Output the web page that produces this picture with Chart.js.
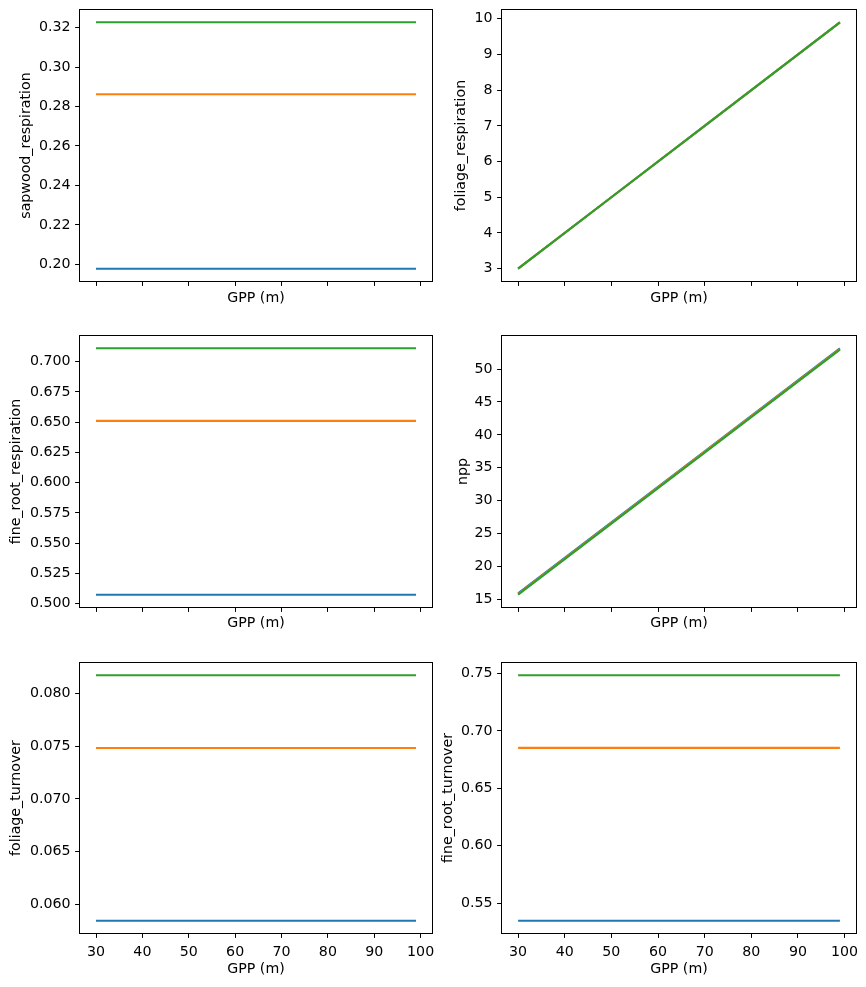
<!DOCTYPE html>
<html>
<head>
<meta charset="utf-8">
<script src="https://cdn.jsdelivr.net/npm/chart.js@4"></script>
<style>
  body { margin: 0; background: #fff; width: 866px; height: 987px; position: relative; overflow: hidden; }
  canvas { position: absolute; }
</style>
</head>
<body>
<script>
// Eje x compartido (GPP)
const xTicks = [30, 40, 50, 60, 70, 80, 90, 100];
const gppFlat = [30, 99];
const gppLine = [30, 50, 70, 99];
const seriesColors = ['#1f77b4', '#ff7f0e', '#2ca02c'];

// Valores (azul, naranja, verde)
const sapwoodResp = [0.1978, 0.2862, 0.3227];
const fineRootResp = [0.5074, 0.6510, 0.7110];
const foliageTurnover = [0.05842, 0.07484, 0.08176];
const fineRootTurnover = [0.5347, 0.6853, 0.7485];

const foliageRespBlue = [3.0, 5.0, 7.0, 9.9];
const foliageRespOrange = [3.0, 5.0, 7.0, 9.9];
const foliageRespGreen = [3.0, 5.0, 7.0, 9.9];

const nppBlue = [15.9, 26.7, 37.5, 53.15];
const nppOrange = [15.8, 26.6, 37.4, 53.05];
const nppGreen = [15.7, 26.5, 37.3, 52.95];

// Etiquetas de los ejes y
const yTicksSapwood = ['0.20', '0.22', '0.24', '0.26', '0.28', '0.30', '0.32'];
const yTicksFoliageResp = ['3', '4', '5', '6', '7', '8', '9', '10'];
const yTicksFineRootResp = ['0.500', '0.525', '0.550', '0.575', '0.600', '0.625', '0.650', '0.675', '0.700'];
const yTicksNpp = ['15', '20', '25', '30', '35', '40', '45', '50'];
const yTicksFoliageTurn = ['0.060', '0.065', '0.070', '0.075', '0.080'];
const yTicksFineRootTurn = ['0.55', '0.60', '0.65', '0.70', '0.75'];

Chart.defaults.font.family = 'DejaVu Sans';
Chart.defaults.font.size = 14.2;
Chart.defaults.color = '#000';

// Series planas: un valor por línea
function flatSets(values) {
    return values.map((v, i) => ({
        data: gppFlat.map(x => ({ x: x, y: v })),
        borderColor: seriesColors[i],
        order: 2 - i
    }));
}

function lineSets(lists) {
    return lists.map((ys, i) => ({
        data: gppLine.map((x, k) => ({ x: x, y: ys[k] })),
        borderColor: seriesColors[i],
        order: 2 - i
    }));
}

// Marco completo como en matplotlib
const framePlugin = {
    id: 'frame',
    afterDatasetsDraw(chart) {
        const a = chart.chartArea;
        const ctx = chart.ctx;
        ctx.save();
        ctx.strokeStyle = '#000';
        ctx.lineWidth = 1;
        ctx.strokeRect(Math.round(a.left) - 0.5, Math.round(a.top) - 0.5,
            Math.round(a.right - a.left) + 1, Math.round(a.bottom - a.top) + 1);
        ctx.restore();
    }
};

const Y_W = 80, PAD = 6;

function makePanel(p) {
    const boxW = p.right - p.left, boxH = p.bottom - p.top;
    const canvas = document.createElement('canvas');
    canvas.width = Y_W + boxW + PAD;
    canvas.height = PAD + boxH + p.xH;
    canvas.style.left = (p.left - Y_W) + 'px';
    canvas.style.top = (p.top - PAD) + 'px';
    document.body.appendChild(canvas);

    // Límites con margen del 5% como matplotlib
    const allY = p.datasets.flatMap(d => d.data.map(pt => pt.y));
    const yMin = Math.min(...allY), yMax = Math.max(...allY);
    const yr = yMax - yMin;
    const xr = gppFlat[1] - gppFlat[0];

    new Chart(canvas, {
        type: 'line',
        data: { datasets: p.datasets },
        options: {
            responsive: false,
            animation: false,
            layout: { padding: { top: PAD, right: PAD, left: 0, bottom: 0 } },
            elements: {
                line: { borderWidth: 2.1, tension: 0, fill: false },
                point: { radius: 0 }
            },
            plugins: { legend: { display: false }, tooltip: { enabled: false } },
            scales: {
                x: {
                    type: 'linear',
                    min: gppFlat[0] - 0.05 * xr,
                    max: gppFlat[1] + 0.05 * xr,
                    afterBuildTicks: s => { s.ticks = xTicks.map(v => ({ value: v })); },
                    afterFit: s => { s.height = p.xH; s.paddingLeft = 0; s.paddingRight = 0; },
                    grid: { drawOnChartArea: false, drawTicks: true, tickLength: 4.9, tickWidth: 1, tickColor: '#000' },
                    border: { display: false },
                    ticks: {
                        padding: 5.5,
                        maxRotation: 0,
                        autoSkip: false,
                        color: p.showX ? '#000' : 'rgba(0,0,0,0)',
                        callback: v => String(v)
                    },
                    title: { display: true, text: 'GPP (m)', padding: { top: 0, bottom: p.xTitlePad } }
                },
                y: {
                    type: 'linear',
                    min: yMin - 0.05 * yr,
                    max: yMax + 0.05 * yr,
                    afterBuildTicks: s => { s.ticks = p.yTicks.map(t => ({ value: parseFloat(t) })); },
                    afterFit: s => { s.width = Y_W; s.paddingTop = 0; s.paddingBottom = 0; },
                    grid: { drawOnChartArea: false, drawTicks: true, tickLength: 4.9, tickWidth: 1, tickColor: '#000' },
                    border: { display: false },
                    ticks: {
                        padding: 4.5,
                        autoSkip: false,
                        callback: (v, i) => p.yTicks[i]
                    },
                    title: { display: true, text: p.yTitle, padding: { top: p.yTitlePad, bottom: 0 } }
                }
            }
        },
        plugins: [framePlugin]
    });
}

const LEFT = [80, 432], RIGHT = [502, 856];
const ROWS = [[10, 281], [336, 607], [663, 933]];

makePanel({ left: LEFT[0], right: LEFT[1], top: ROWS[0][0], bottom: ROWS[0][1], xH: 30, xTitlePad: 4.5, showX: false,
    yTitle: 'sapwood_respiration', yTitlePad: 17.4, yTicks: yTicksSapwood, datasets: flatSets(sapwoodResp) });
makePanel({ left: RIGHT[0], right: RIGHT[1], top: ROWS[0][0], bottom: ROWS[0][1], xH: 30, xTitlePad: 4.5, showX: false,
    yTitle: 'foliage_respiration', yTitlePad: 30.8, yTicks: yTicksFoliageResp,
    datasets: lineSets([foliageRespBlue, foliageRespOrange, foliageRespGreen]) });
makePanel({ left: LEFT[0], right: LEFT[1], top: ROWS[1][0], bottom: ROWS[1][1], xH: 30, xTitlePad: 4.8, showX: false,
    yTitle: 'fine_root_respiration', yTitlePad: 8.2, yTicks: yTicksFineRootResp, datasets: flatSets(fineRootResp) });
makePanel({ left: RIGHT[0], right: RIGHT[1], top: ROWS[1][0], bottom: ROWS[1][1], xH: 30, xTitlePad: 4.8, showX: false,
    yTitle: 'npp', yTitlePad: 32.4, yTicks: yTicksNpp, datasets: lineSets([nppBlue, nppOrange, nppGreen]) });
makePanel({ left: LEFT[0], right: LEFT[1], top: ROWS[2][0], bottom: ROWS[2][1], xH: 50, xTitlePad: 5.2, showX: true,
    yTitle: 'foliage_turnover', yTitlePad: 7.4, yTicks: yTicksFoliageTurn, datasets: flatSets(foliageTurnover) });
makePanel({ left: RIGHT[0], right: RIGHT[1], top: ROWS[2][0], bottom: ROWS[2][1], xH: 50, xTitlePad: 5.2, showX: true,
    yTitle: 'fine_root_turnover', yTitlePad: 17.4, yTicks: yTicksFineRootTurn, datasets: flatSets(fineRootTurnover) });
</script>
</body>
</html>
